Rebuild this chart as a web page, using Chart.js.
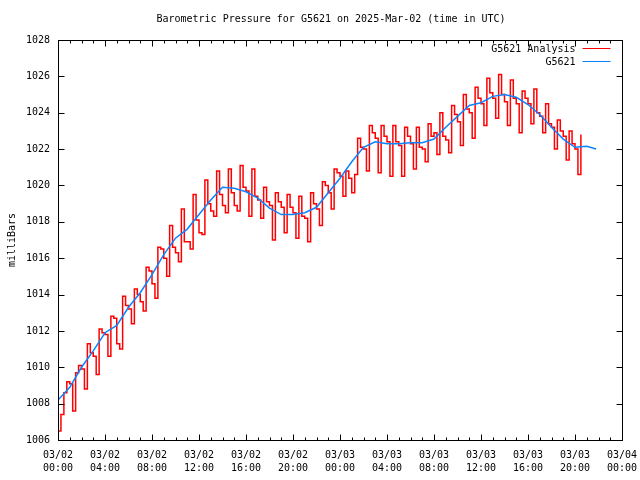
<!DOCTYPE html>
<html>
<head>
<meta charset="utf-8">
<script src="https://cdn.jsdelivr.net/npm/chart.js@4.4.1/dist/chart.umd.min.js"></script>
<style>
  html, body { margin: 0; padding: 0; background: #fff; }
  canvas { display: block; }
</style>
</head>
<body>
<canvas id="chart" width="640" height="480"></canvas>
<script>
const chartTitle = 'Barometric Pressure for G5621 on 2025-Mar-02 (time in UTC)';
const FONT = '10px "DejaVu Sans Mono"';

// x axis: hours since 03/02 00:00 UTC
const tickLabels = [
  ['03/02', '00:00'], ['03/02', '04:00'], ['03/02', '08:00'], ['03/02', '12:00'],
  ['03/02', '16:00'], ['03/02', '20:00'], ['03/03', '00:00'], ['03/03', '04:00'],
  ['03/03', '08:00'], ['03/03', '12:00'], ['03/03', '16:00'], ['03/03', '20:00'],
  ['03/04', '00:00']
];

// G5621 station readings (hourly)
const stationHours = [
  0, 1, 2, 3, 4, 5, 6, 7, 8, 9, 10, 11, 12, 13, 14, 15, 16, 17, 18, 19, 20, 21, 22, 23,
  24, 25, 26, 27, 28, 29, 30, 31, 32, 33, 34, 35, 36, 37, 38, 39, 40, 41, 42, 43, 44, 45, 45.8
];
const stationValues = [
  1008.2, 1008.9, 1010.0, 1010.9, 1011.9, 1012.3, 1013.3, 1014.1, 1015.1, 1016.2, 1017.1, 1017.6,
  1018.4, 1019.2, 1019.9, 1019.85, 1019.65, 1019.3, 1018.75, 1018.4, 1018.4, 1018.5, 1018.8, 1019.6,
  1020.4, 1021.3, 1022.1, 1022.4, 1022.3, 1022.3, 1022.35, 1022.35, 1022.55, 1023.2, 1023.8, 1024.4,
  1024.55, 1024.9, 1025.0, 1024.85, 1024.45, 1023.9, 1023.2, 1022.55, 1022.1, 1022.15, 1022.0
];

// G5621 Analysis, every 15 minutes from 00:00
const analysisValues = [
  1006.5, 1007.4,
  1008.6, 1009.2, 1009.1, 1007.6,
  1009.7, 1010.1, 1009.9, 1008.8,
  1011.3, 1010.8, 1010.6, 1009.6,
  1012.1, 1011.9, 1011.8, 1010.6,
  1012.8, 1012.7, 1011.3, 1011.0,
  1013.9, 1013.4, 1013.2, 1012.4,
  1014.3, 1014.0, 1013.6, 1013.1,
  1015.5, 1015.3, 1014.6, 1013.8,
  1016.6, 1016.5, 1016.0, 1015.0,
  1017.8, 1016.6, 1016.3, 1015.8,
  1018.7, 1016.9, 1016.9, 1016.5,
  1019.5, 1018.1, 1017.4, 1017.3,
  1020.3, 1019.0, 1018.6, 1018.3,
  1020.8, 1019.5, 1018.9, 1018.5,
  1020.9, 1019.6, 1018.9, 1018.6,
  1021.1, 1019.9, 1019.7, 1018.3,
  1020.9, 1019.4, 1019.2, 1018.2,
  1019.9, 1019.1, 1018.9, 1017.0,
  1019.6, 1019.1, 1018.8, 1017.4,
  1019.5, 1018.8, 1018.5, 1017.1,
  1019.4, 1018.3, 1018.2, 1016.9,
  1019.6, 1019.0, 1018.7, 1017.8,
  1020.2, 1020.0, 1019.6, 1018.7,
  1020.9, 1020.7, 1020.5, 1019.4,
  1020.8, 1020.4, 1019.6, 1020.6,
  1022.6, 1022.1, 1022.0, 1020.8,
  1023.3, 1022.9, 1022.6, 1020.7,
  1023.3, 1022.7, 1022.4, 1020.5,
  1023.3, 1022.4, 1022.2, 1020.5,
  1023.2, 1022.7, 1022.3, 1020.9,
  1023.2, 1022.1, 1022.0, 1021.3,
  1023.4, 1022.7, 1022.9, 1021.7,
  1024.0, 1022.7, 1022.5, 1021.8,
  1024.4, 1023.9, 1023.5, 1022.2,
  1025.0, 1024.2, 1024.0, 1022.6,
  1025.4, 1024.8, 1024.5, 1023.3,
  1025.9, 1025.1, 1024.8, 1023.7,
  1026.1, 1025.0, 1024.6, 1023.3,
  1025.8, 1024.8, 1024.5, 1022.9,
  1025.2, 1024.8, 1024.5, 1023.4,
  1025.3, 1024.0, 1023.8, 1022.9,
  1024.5, 1023.4, 1023.2, 1022.0,
  1023.6, 1023.0, 1022.7, 1021.4,
  1023.0, 1022.3, 1022.0, 1020.6,
  1022.8
];
const analysisHours = analysisValues.map((v, i) => i * 0.25);

const xMin = 0, xMax = 48;
const yMin = 1006, yMax = 1028;

// gnuplot-like frame: box, inward ticks, title and key
const gnuplotFrame = {
  id: 'gnuplotFrame',
  afterDraw(chart) {
    const { ctx, chartArea: a, scales } = chart;
    const L = Math.round(a.left) + 0.5, R = Math.round(a.right) + 0.5;
    const T = Math.round(a.top) + 0.5, B = Math.round(a.bottom) + 0.5;
    ctx.save();
    ctx.strokeStyle = '#000';
    ctx.lineWidth = 1;
    ctx.strokeRect(L, T, R - L, B - T);
    ctx.beginPath();
    for (let h = xMin; h <= xMax; h++) {
      const x = Math.round(scales.x.getPixelForValue(h)) + 0.5;
      const len = h % 4 === 0 ? 6 : 3;
      ctx.moveTo(x, B); ctx.lineTo(x, B - len);
      ctx.moveTo(x, T); ctx.lineTo(x, T + len);
    }
    for (let v = yMin; v <= yMax; v += 2) {
      const y = Math.round(scales.y.getPixelForValue(v)) + 0.5;
      ctx.moveTo(L, y); ctx.lineTo(L + 6, y);
      ctx.moveTo(R, y); ctx.lineTo(R - 6, y);
    }
    ctx.stroke();

    ctx.font = FONT;
    ctx.fillStyle = '#000';
    ctx.textBaseline = 'middle';
    ctx.textAlign = 'center';
    ctx.fillText(chartTitle, 331, 19);

    ctx.textAlign = 'right';
    chart.data.datasets.forEach((ds, i) => {
      const y = Math.round(a.top) + 9 + 13 * i;
      ctx.fillStyle = '#000';
      ctx.fillText(ds.label, R - 47, y);
      ctx.strokeStyle = ds.borderColor;
      ctx.beginPath();
      ctx.moveTo(R - 40, y - 0.5);
      ctx.lineTo(R - 12, y - 0.5);
      ctx.stroke();
    });
    ctx.restore();
  }
};

new Chart(document.getElementById('chart'), {
  type: 'line',
  data: {
    datasets: [
      {
        label: 'G5621 Analysis',
        data: analysisHours.map((h, i) => ({ x: h, y: analysisValues[i] })),
        borderColor: '#ff0000',
        borderWidth: 1.5,
        stepped: true,
        pointRadius: 0,
        order: 1
      },
      {
        label: 'G5621',
        data: stationHours.map((h, i) => ({ x: h, y: stationValues[i] })),
        borderColor: '#0a84ff',
        borderWidth: 1.5,
        pointRadius: 0,
        order: 0
      }
    ]
  },
  options: {
    responsive: false,
    animation: false,
    devicePixelRatio: 1,
    layout: { padding: { top: 40, right: 18, left: 0, bottom: 0 } },
    plugins: {
      legend: { display: false },
      tooltip: { enabled: false },
      title: { display: false }
    },
    scales: {
      x: {
        type: 'linear',
        min: xMin,
        max: xMax,
        grid: { display: false },
        border: { display: false },
        ticks: {
          stepSize: 4,
          autoSkip: false,
          maxRotation: 0,
          padding: 1,
          color: '#000',
          font: { family: 'DejaVu Sans Mono', size: 10, lineHeight: 1.3 },
          callback: (v) => tickLabels[v / 4]
        },
        afterFit: (s) => {
          s.height = 40;
          s.paddingLeft = 0;
          s.paddingRight = 0;
        }
      },
      y: {
        min: yMin,
        max: yMax,
        grid: { display: false },
        border: { display: false },
        ticks: {
          stepSize: 2,
          padding: 0,
          color: '#000',
          font: { family: 'DejaVu Sans Mono', size: 10 },
          callback: (v) => String(v)
        },
        title: {
          display: true,
          text: 'milliBars',
          color: '#000',
          padding: 6,
          font: { family: 'DejaVu Sans Mono', size: 10 }
        },
        afterFit: (s) => { s.width = 58; }
      }
    }
  },
  plugins: [gnuplotFrame]
});
</script>
</body>
</html>
